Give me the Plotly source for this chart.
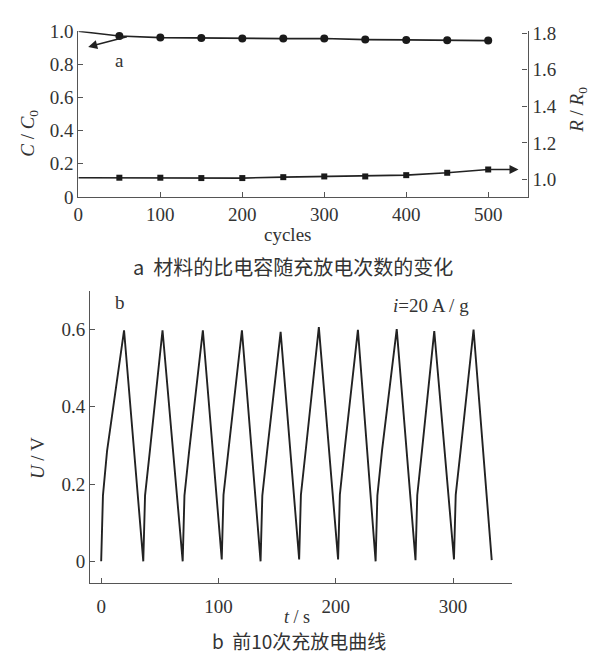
import plotly.graph_objects as go

# ---- Panel a data ----
cycles = [0, 50, 100, 150, 200, 250, 300, 350, 400, 450, 500]
cap_ratio = [1.0, 0.972, 0.962, 0.960, 0.956, 0.956, 0.957, 0.950, 0.948, 0.946, 0.944]
res_ratio = [1.010, 1.010, 1.010, 1.008, 1.008, 1.013, 1.017, 1.017, 1.024, 1.037, 1.055]

# ---- Panel b data (vertices of the charge/discharge curve) ----
t_s = [0, 1.5, 5.0, 19.5, 35.9,
       37.4, 41.5, 52.3, 69.5,
       71.0, 75.0, 86.7, 102.8,
       104.3, 108.5, 120.0, 135.9,
       137.4, 141.5, 153.0, 168.8,
       170.3, 174.5, 185.6, 202.0,
       203.5, 207.5, 218.9, 234.0,
       235.5, 239.5, 252.0, 268.0,
       269.5, 273.5, 284.0, 300.8,
       302.3, 306.5, 317.5, 333.0]
u_v = [0.000, 0.170, 0.285, 0.598, 0.000,
       0.170, 0.285, 0.598, 0.000,
       0.170, 0.285, 0.598, 0.005,
       0.172, 0.287, 0.598, 0.000,
       0.170, 0.285, 0.594, 0.005,
       0.172, 0.290, 0.606, 0.005,
       0.172, 0.288, 0.599, 0.000,
       0.170, 0.288, 0.601, 0.003,
       0.171, 0.286, 0.596, 0.005,
       0.172, 0.288, 0.600, 0.003]

LINE = "#222222"
AXC = "#555555"
SERIF = "Liberation Serif"
CJK = "Noto Sans CJK SC"

fig = go.Figure()
# lines (including cycle 0, which has no marker)
fig.add_trace(go.Scatter(x=cycles, y=cap_ratio, mode="lines",
                         line=dict(color=LINE, width=1.6),
                         xaxis="x", yaxis="y", cliponaxis=False, showlegend=False))
fig.add_trace(go.Scatter(x=cycles, y=res_ratio, mode="lines",
                         line=dict(color=LINE, width=1.6),
                         xaxis="x", yaxis="y2", cliponaxis=False, showlegend=False))
# markers from cycle 50 on
fig.add_trace(go.Scatter(x=cycles[1:], y=cap_ratio[1:], mode="markers",
                         marker=dict(symbol="circle", size=8, color="#1a1a1a",
                                     line=dict(width=0)),
                         xaxis="x", yaxis="y", cliponaxis=False, showlegend=False))
fig.add_trace(go.Scatter(x=cycles[1:], y=res_ratio[1:], mode="markers",
                         marker=dict(symbol="square", size=6, color="#1a1a1a",
                                     line=dict(width=0)),
                         xaxis="x", yaxis="y2", cliponaxis=False, showlegend=False))
fig.add_trace(go.Scatter(x=t_s, y=u_v, mode="lines",
                         line=dict(color=LINE, width=1.9),
                         xaxis="x2", yaxis="y3", cliponaxis=False, showlegend=False))

tickfont = dict(family=SERIF, size=19, color="#333333")
common = dict(showline=True, linecolor=AXC, linewidth=1.2, ticks="inside",
              ticklen=5, tickcolor=AXC, showgrid=False, zeroline=False,
              tickfont=tickfont)

fig.update_layout(
    width=590, height=666, margin=dict(l=0, r=0, t=0, b=0),
    paper_bgcolor="white", plot_bgcolor="white",
    xaxis=dict(domain=[74/590, 527/590], range=[0, 548], anchor="y",
               tickvals=[0, 100, 200, 300, 400, 500], **common),
    yaxis=dict(domain=[1-193/666, 1-22/666], range=[0, 1.0], anchor="x",
               tickvals=[0, 0.2, 0.4, 0.6, 0.8, 1.0],
               ticktext=["0", "0.2", "0.4", "0.6", "0.8", "1.0"], **common),
    yaxis2=dict(overlaying="y", side="right", anchor="x", range=[0.905, 1.8106],
                tickvals=[1.0, 1.2, 1.4, 1.6, 1.8],
                ticktext=["1.0", "1.2", "1.4", "1.6", "1.8"], **common),
    xaxis2=dict(domain=[86/590, 511/590], range=[-9.3, 350], anchor="y3",
                tickvals=[0, 100, 200, 300], ticklabelstandoff=6, **common),
    yaxis3=dict(domain=[1-592/666, 1-290/666], range=[-0.057, 0.70], anchor="x2",
                tickvals=[0, 0.2, 0.4, 0.6],
                ticktext=["0", "0.2", "0.4", "0.6"], **common),
)

ann = []
# arrows
ann.append(dict(x=12, y=0.906, xref="x", yref="y", ax=61, ay=0.97, axref="x", ayref="y",
                showarrow=True, arrowhead=2, arrowsize=1.2, arrowwidth=1.5,
                arrowcolor=LINE, text=""))
ann.append(dict(x=537, y=1.055, xref="x", yref="y2", ax=500, ay=1.055, axref="x", ayref="y2",
                showarrow=True, arrowhead=2, arrowsize=1.2, arrowwidth=1.5,
                arrowcolor=LINE, text=""))
def txt(x, y, s, size=19, family=SERIF, angle=0):
    ann.append(dict(x=x/590, y=1-y/666, xref="paper", yref="paper", text=s,
                    showarrow=False, textangle=angle, xanchor="center", yanchor="middle",
                    font=dict(family=family, size=size, color="#333333")))
txt(115, 52, "a")
txt(285, 232, "cycles")
txt(24, 127, "<i>C</i> / <i>C</i><sub>0</sub>", angle=-90)
txt(578, 103, "<i>R</i> / <i>R</i><sub>0</sub>", angle=-90)
txt(290, 265, "a  材料的比电容随充放电次数的变化", size=20, family=CJK)
txt(116, 302, "b")
txt(430, 305, "<i>i</i>=20 A / g")
txt(33, 463, "<i>U</i> / V", angle=-90)
txt(294, 627, "<i>t</i> / s", size=18)
txt(297, 651, "b  前10次充放电曲线", size=19, family=CJK)
fig.update_layout(annotations=ann)

fig.write_html("out.html")
